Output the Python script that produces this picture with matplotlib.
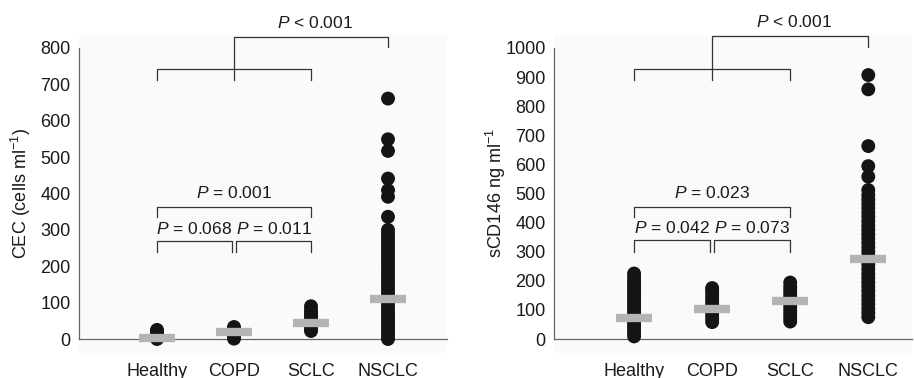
import matplotlib
matplotlib.use("Agg")
import matplotlib.pyplot as plt
from matplotlib.patches import Rectangle

plt.rcParams['font.family'] = ['Liberation Sans', 'DejaVu Sans']
plt.rcParams['mathtext.fontset'] = 'custom'
plt.rcParams['mathtext.rm'] = 'Liberation Sans'
plt.rcParams['mathtext.it'] = 'Liberation Sans:italic'

groups = ['Healthy', 'COPD', 'SCLC', 'NSCLC']

# CEC (cells/ml)
cec_healthy = [0, 3, 6, 9, 12, 15, 18, 21, 25]
cec_copd = [1, 5, 9, 13, 17, 21, 25, 29, 33]
cec_sclc = [22, 28, 34, 40, 46, 52, 58, 65, 72, 80, 90]
cec_nsclc = [0, 8, 16, 24, 32, 40, 48, 56, 64, 72, 80, 90, 100, 110, 120,
             130, 140, 150, 160, 170, 180, 190, 200, 210, 220, 230, 240,
             250, 260, 270, 280, 290, 300, 336, 391, 409, 441, 517, 549, 661]
cec_median = [4, 19, 43, 110]

# sCD146 (ng/ml)
scd_healthy = [9, 20, 30, 40, 50, 60, 70, 80, 90, 100, 110, 120, 130, 140,
               150, 160, 170, 180, 190, 200, 212, 225]
scd_copd = [58, 70, 82, 94, 106, 118, 130, 142, 154, 166, 175]
scd_sclc = [60, 72, 84, 96, 108, 120, 132, 144, 156, 168, 180, 194]
scd_nsclc = [75, 90, 105, 120, 135, 150, 165, 180, 195, 210, 225, 240, 255,
             270, 285, 300, 315, 330, 345, 360, 375, 390, 405, 420, 435, 450,
             465, 480, 495, 512, 558, 594, 663, 858, 907]
scd_median = [73, 103, 130, 274]

# brackets: (x1, x2, y_bar, y_leg, label)
cec_pairs = [(0, 0.97, 270, 240, '$P$ = 0.068'),
             (1.03, 2, 270, 240, '$P$ = 0.011'),
             (0, 2, 363, 335, '$P$ = 0.001')]
scd_pairs = [(0, 0.97, 340, 300, '$P$ = 0.042'),
             (1.03, 2, 340, 300, '$P$ = 0.073'),
             (0, 2, 454, 420, '$P$ = 0.023')]

W, H = 914, 378
fig = plt.figure(figsize=(W / 100, H / 100), dpi=100)
ax1 = fig.add_axes([79 / W, 1 - 339 / H, 368 / W, 291 / H])
ax2 = fig.add_axes([554 / W, 1 - 339 / H, 358 / W, 291 / H])

line_kw = dict(color='#333333', lw=0.9, clip_on=False)
txt_kw = dict(ha='center', va='center', fontsize=12.5, color='#1a1a1a')


def draw_panel(ax, data, medians, pairs, top, ylim, xlim, ylabel, lpad):
    ax.set_facecolor('none')
    ax.add_patch(Rectangle((0, -0.048), 1, 1.093, transform=ax.transAxes,
                           facecolor='#fafafa', edgecolor='none',
                           zorder=0, clip_on=False))
    for i, vals in enumerate(data):
        ax.scatter([i] * len(vals), vals, s=100, color='#141414',
                   edgecolors='none', zorder=3, clip_on=False)
        ax.hlines(medians[i], i - 0.23, i + 0.23, color='#b4b4b4', lw=6,
                  zorder=4, clip_on=False)

    ymax = ylim[1]
    for x1, x2, yb, yl, lab in pairs:
        ax.plot([x1, x1, x2, x2], [yl, yb, yb, yl], **line_kw)
        off = 0.047 if x2 - x1 > 1.5 else 0.041
        ax.text((x1 + x2) / 2, yb + ymax * off, lab, **txt_kw)

    # overall bracket: Healthy-SCLC vs NSCLC
    low_bar, low_leg, hi_bar, hi_leg, lab = top
    ax.plot([0, 0, 2, 2], [low_leg, low_bar, low_bar, low_leg], **line_kw)
    ax.plot([1, 1, 3, 3], [low_leg, hi_bar, hi_bar, hi_leg], **line_kw)
    ax.text(2.05, hi_bar + ymax * 0.047, lab, clip_on=False, **txt_kw)

    ax.set_xlim(*xlim)
    ax.set_ylim(*ylim)
    ax.set_xticks(range(len(groups)))
    ax.set_xticklabels(groups)
    ax.tick_params(axis='both', length=0, labelsize=13, colors='#1a1a1a')
    ax.tick_params(axis='x', pad=17)
    ax.tick_params(axis='y', pad=6)
    ax.set_ylabel(ylabel, fontsize=13, color='#1a1a1a', labelpad=lpad)
    for s in ['top', 'right']:
        ax.spines[s].set_visible(False)
    for s in ['left', 'bottom']:
        ax.spines[s].set_color('#666666')
        ax.spines[s].set_linewidth(0.9)


draw_panel(ax1, [cec_healthy, cec_copd, cec_sclc, cec_nsclc], cec_median,
           cec_pairs, (742, 712, 830, 803, '$P$ < 0.001'), (0, 800),
           (-1.013, 3.766), 'CEC (cells ml$^{-1}$)', 5)
ax1.set_yticks(range(0, 801, 100))

draw_panel(ax2, [scd_healthy, scd_copd, scd_sclc, scd_nsclc], scd_median,
           scd_pairs, (928, 890, 1041, 1004, '$P$ < 0.001'), (0, 1000),
           (-1.026, 3.56), 'sCD146 ng ml$^{-1}$', -2)
ax2.set_yticks(range(0, 1001, 100))

fig.savefig('out.png', dpi=100)
